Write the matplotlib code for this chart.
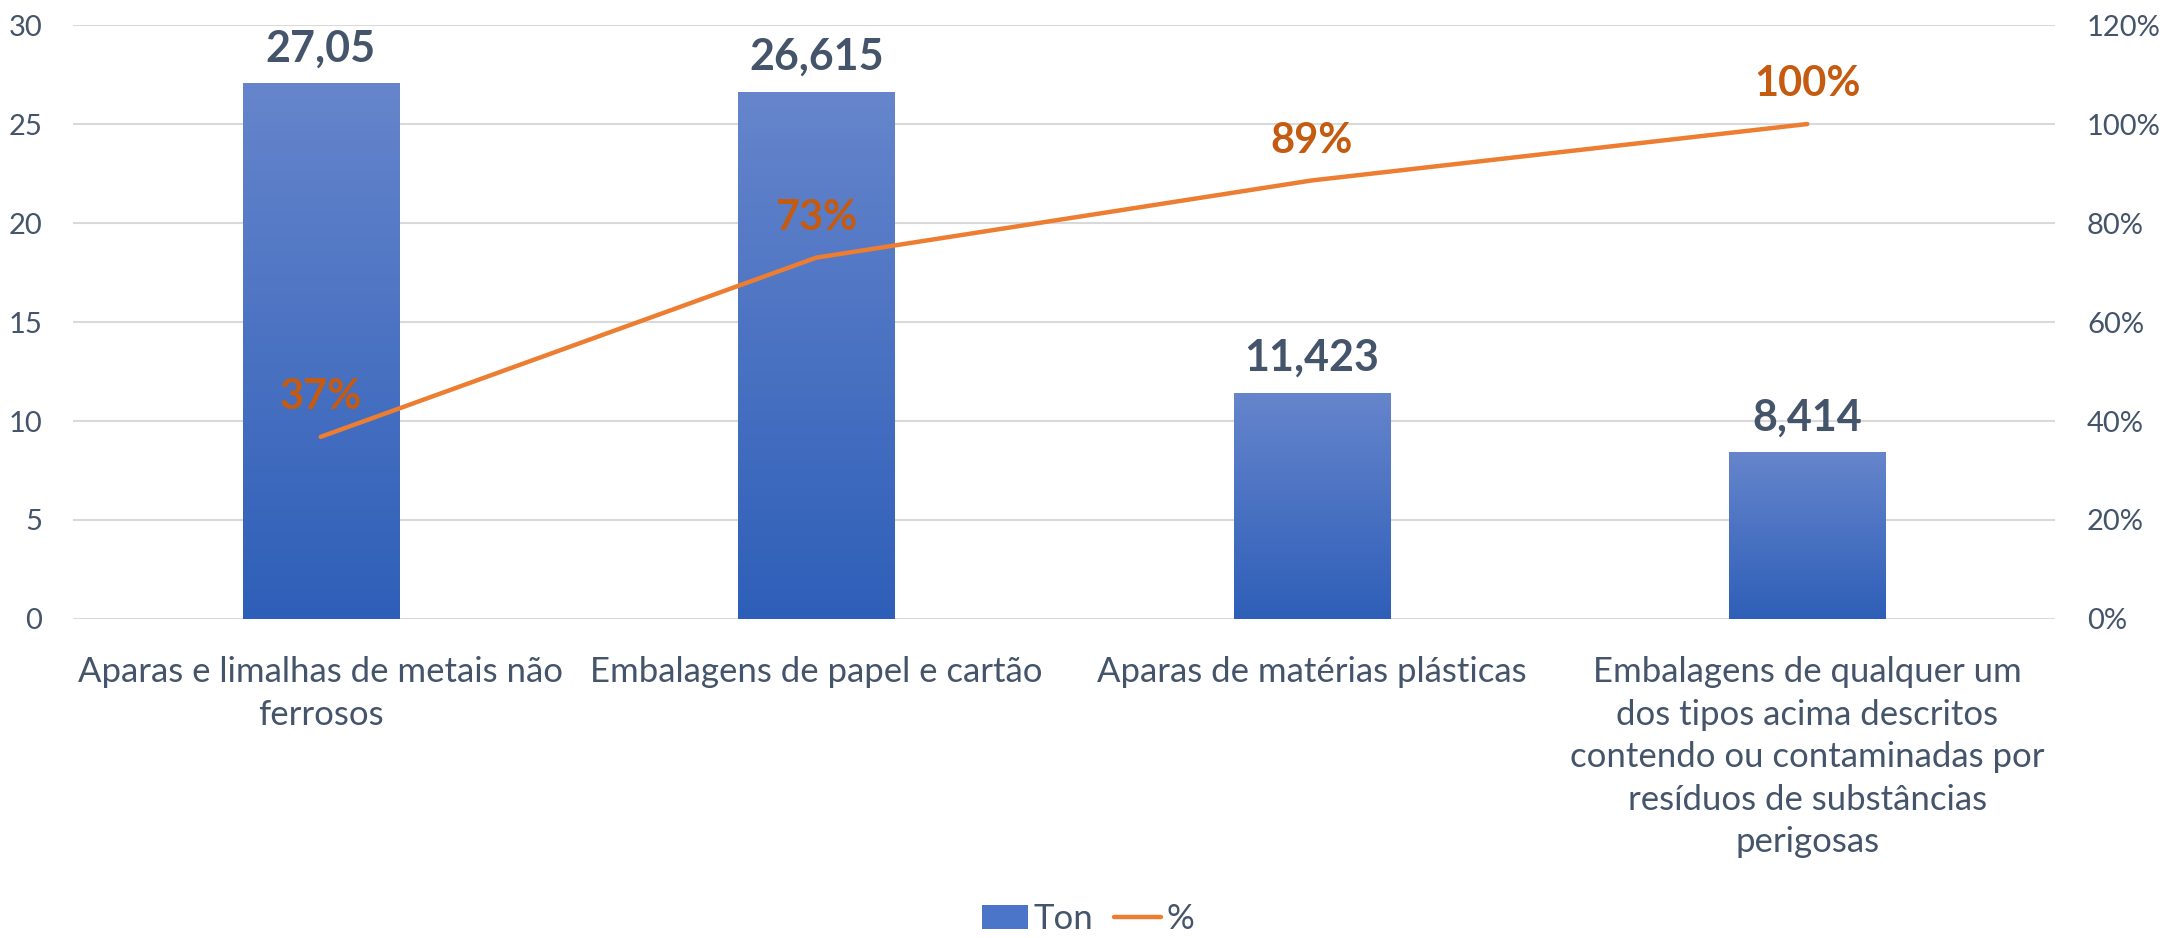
import matplotlib
matplotlib.use("Agg")
import matplotlib.pyplot as plt
import numpy as np
from matplotlib.colors import LinearSegmentedColormap
from matplotlib.lines import Line2D
from matplotlib.patches import Patch

plt.rcParams['font.family'] = ['Lato', 'DejaVu Sans']

# data
categories = [
    "Aparas e limalhas de metais não\nferrosos",
    "Embalagens de papel e cartão",
    "Aparas de matérias plásticas",
    "Embalagens de qualquer um\ndos tipos acima descritos\ncontendo ou contaminadas por\nresíduos de substâncias\nperigosas",
]
ton = [27.05, 26.615, 11.423, 8.414]
ton_labels = ["27,05", "26,615", "11,423", "8,414"]
cum_pct = [0.368, 0.730, 0.886, 1.0]
pct_labels = ["37%", "73%", "89%", "100%"]

text_col = '#44546A'
grid_col = '#D9D9D9'
line_col = '#ED7D31'
pct_col = '#C55A11'

fig = plt.figure(figsize=(21.76, 9.38), dpi=100)
ax = fig.add_axes([0.0335, 0.3401, 0.9109, 0.6332])
ax2 = ax.twinx()

x = np.arange(len(categories))
bars = ax.bar(x, ton, width=0.315, color='#4472C4', zorder=2)

# vertical gradient on each bar
grad_cmap = LinearSegmentedColormap.from_list('bar', ['#2E5FB8', '#6685CC'])
grad = np.linspace(0, 1, 256).reshape(-1, 1)
for b in bars:
    x0, y0 = b.get_x(), b.get_y()
    w, h = b.get_width(), b.get_height()
    im = ax.imshow(grad, cmap=grad_cmap, origin='lower', aspect='auto',
                   extent=(x0, x0 + w, y0, y0 + h), zorder=2.5)
    im.set_clip_path(b)

for xi, v, lab in zip(x, ton, ton_labels):
    ax.annotate(lab, (xi, v), xytext=(0, 16), textcoords='offset points',
                ha='center', va='baseline', fontsize=31, fontweight='bold',
                color=text_col, zorder=5)

ax.set_xlim(-0.5, len(categories) - 0.5)
ax.set_ylim(0, 30)
ax.set_yticks(np.arange(0, 31, 5))
ax.grid(axis='y', color=grid_col, linewidth=1.5, zorder=0)
ax.set_axisbelow(True)
ax.set_xticks(x)
ax.set_xticklabels(categories, fontsize=25, color=text_col, linespacing=1.4)
ax.tick_params(axis='x', length=0, pad=27)
ax.tick_params(axis='y', length=0, pad=22, labelsize=21, labelcolor=text_col)
for s in ax.spines.values():
    s.set_visible(False)

ax2.plot(x, cum_pct, color=line_col, linewidth=3.2, solid_capstyle='round', zorder=4)
for xi, v, lab in zip(x, cum_pct, pct_labels):
    ax2.annotate(lab, (xi, v), xytext=(0, 20), textcoords='offset points',
                 ha='center', va='baseline', fontsize=30, fontweight='bold',
                 color=pct_col, zorder=6)
ax2.set_ylim(0, 1.2)
ax2.set_yticks(np.arange(0, 1.21, 0.2))
ax2.set_yticklabels([f"{int(round(t * 100))}%" for t in np.arange(0, 1.21, 0.2)])
ax2.tick_params(axis='y', length=0, pad=23, labelsize=21, labelcolor=text_col)
for s in ax2.spines.values():
    s.set_visible(False)

handles = [Patch(facecolor='#4A75C8', edgecolor='none'),
           Line2D([0], [0], color=line_col, linewidth=3.2, solid_capstyle='round')]
leg = fig.legend(handles, ['Ton', '%'], loc='center', bbox_to_anchor=(0.5, 0.02),
                 ncol=2, frameon=False, fontsize=25, handlelength=1.33,
                 handletextpad=0.17, columnspacing=0.6)
for t in leg.get_texts():
    t.set_color(text_col)

fig.savefig('out.png', dpi=100)
